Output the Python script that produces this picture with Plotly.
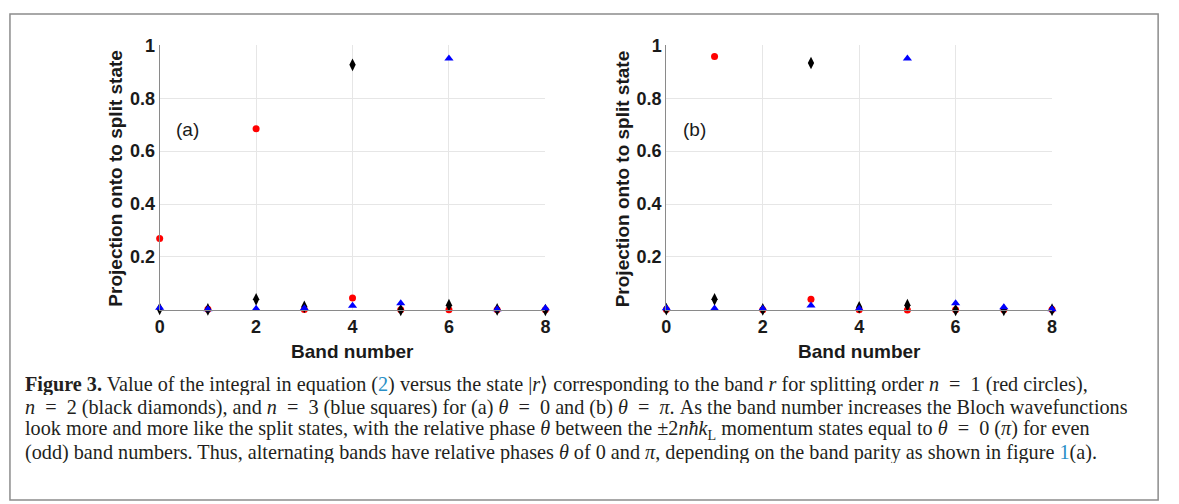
import plotly.graph_objects as go

W, H = 1179, 504

bands = [0, 1, 2, 3, 4, 5, 6, 7, 8]

# Panel (a): theta = 0
red_a = [0.27, 0.003, 0.685, 0.002, 0.045, 0.001, 0.001, 0.001, 0.001]
black_a = [0.004, 0.002, 0.04, 0.012, 0.926, 0.0, 0.018, 0.002, 0.0]
blue_a = [0.008, 0.003, 0.004, 0.006, 0.016, 0.025, 0.95, 0.003, 0.006]

# Panel (b): theta = pi
red_b = [0.002, 0.958, 0.001, 0.04, 0.001, 0.0, 0.001, 0.001, 0.002]
black_b = [0.003, 0.04, 0.002, 0.933, 0.01, 0.018, 0.0, 0.0, 0.001]
blue_b = [0.006, 0.005, 0.004, 0.017, 0.004, 0.95, 0.025, 0.01, 0.003]

x_ticks = [0, 2, 4, 6, 8]
y_ticks = [0.2, 0.4, 0.6, 0.8, 1.0]
y_tick_labels = ["0.2", "0.4", "0.6", "0.8", "1"]

panel_labels = ["(a)", "(b)"]
x_title = "Band number"
y_title = "Projection onto to split state"

EQ = "\u2002=\u2002"
caption_lines = [
    "<b>Figure 3.</b> Value of the integral in equation (<span style='color:#2a8fc6'>2</span>) versus the state |<i>r</i>⟩ corresponding to the band <i>r</i> for splitting order <i>n</i>" + EQ + "1 (red circles),",
    "<i>n</i>" + EQ + "2 (black diamonds), and <i>n</i>" + EQ + "3 (blue squares) for (a) <i>θ</i>" + EQ + "0 and (b) <i>θ</i>" + EQ + "<i>π</i>. As the band number increases the Bloch wavefunctions",
    "look more and more like the split states, with the relative phase <i>θ</i> between the ±2<i>nħk</i><sub>L</sub> momentum states equal to <i>θ</i>" + EQ + "0 (<i>π</i>) for even",
    "(odd) band numbers. Thus, alternating bands have relative phases <i>θ</i> of 0 and <i>π</i>, depending on the band parity as shown in figure <span style='color:#2a8fc6'>1</span>(a).",
]


def px(x):
    return x / W


def py(y):
    return 1 - y / H


fig = go.Figure()

panels = [
    ("x", "y", red_a, black_a, blue_a),
    ("x2", "y2", red_b, black_b, blue_b),
]
for xa, ya, r, k, b in panels:
    fig.add_trace(go.Scatter(x=bands, y=r, mode="markers", xaxis=xa, yaxis=ya,
                             marker=dict(symbol="circle", size=7, color="#ff0000"),
                             cliponaxis=False, showlegend=False))
    fig.add_trace(go.Scatter(x=bands, y=k, mode="markers", xaxis=xa, yaxis=ya,
                             marker=dict(symbol="diamond-tall", size=9, color="#000000"),
                             cliponaxis=False, showlegend=False))
    fig.add_trace(go.Scatter(x=bands, y=b, mode="markers", xaxis=xa, yaxis=ya,
                             marker=dict(symbol="triangle-up", size=8, color="#0000ff"),
                             cliponaxis=False, showlegend=False))

tickfont = dict(family="Liberation Sans, Arial, sans-serif", size=18, color="#1a1a1a", weight="bold")
x_common = dict(range=[0, 8], tickvals=x_ticks, ticktext=[str(t) for t in x_ticks],
                showgrid=True, gridcolor="#e6e6e6", gridwidth=1,
                showline=True, linecolor="#8a8a8a", linewidth=1.2,
                zeroline=False, ticks="", tickfont=tickfont, mirror=False)
y_common = dict(range=[0, 1], tickvals=y_ticks, ticktext=y_tick_labels,
                showgrid=True, gridcolor="#e6e6e6", gridwidth=1,
                showline=True, linecolor="#8a8a8a", linewidth=1.2,
                zeroline=False, ticks="", tickfont=tickfont)

ydom = [py(306), py(36)]
fig.update_layout(
    width=W, height=H,
    margin=dict(l=0, r=0, t=0, b=0),
    paper_bgcolor="white", plot_bgcolor="white",
    xaxis=dict(domain=[px(156), px(545)], anchor="y", **x_common),
    yaxis=dict(domain=ydom, anchor="x", **y_common),
    xaxis2=dict(domain=[px(667), px(1056)], anchor="y2", **x_common),
    yaxis2=dict(domain=ydom, anchor="x2", **y_common),
)

annotations = []
bold_sans = dict(family="Liberation Sans, Arial, sans-serif", size=19, color="#1a1a1a", weight="bold")
for (xl, xr), lab in zip([(156, 545), (667, 1056)], panel_labels):
    annotations.append(dict(x=px((xl + xr) / 2), y=py(348), xref="paper", yref="paper",
                            text=x_title, showarrow=False, font=bold_sans,
                            xanchor="center", yanchor="middle"))
    annotations.append(dict(x=px(xl - 44), y=py(172), xref="paper", yref="paper",
                            text=y_title, showarrow=False, font=bold_sans, textangle=-90,
                            xanchor="center", yanchor="middle"))
    annotations.append(dict(x=px(xl + 28), y=py(122), xref="paper", yref="paper",
                            text=lab, showarrow=False,
                            font=dict(family="Liberation Sans, Arial, sans-serif", size=19, color="#1a1a1a"),
                            xanchor="center", yanchor="middle"))

cap_y = [382, 405, 428, 451]
for line, yy in zip(caption_lines, cap_y):
    annotations.append(dict(x=px(18), y=py(yy), xref="paper", yref="paper",
                            text=line, showarrow=False, height=22,
                            font=dict(family="Liberation Serif, Times New Roman, serif", size=20.2, color="#231f20"),
                            xanchor="left", yanchor="middle", align="left", valign="middle"))

fig.update_layout(annotations=annotations)

fig.add_shape(type="rect", xref="paper", yref="paper",
              x0=px(5), x1=px(1163), y0=py(500), y1=py(4),
              line=dict(color="#8c8c8c", width=1.5), fillcolor="rgba(0,0,0,0)", layer="below")

fig.write_html("out.html", config={"displayModeBar": False},
               post_script="document.body.style.margin='0';document.body.style.overflow='hidden';")
